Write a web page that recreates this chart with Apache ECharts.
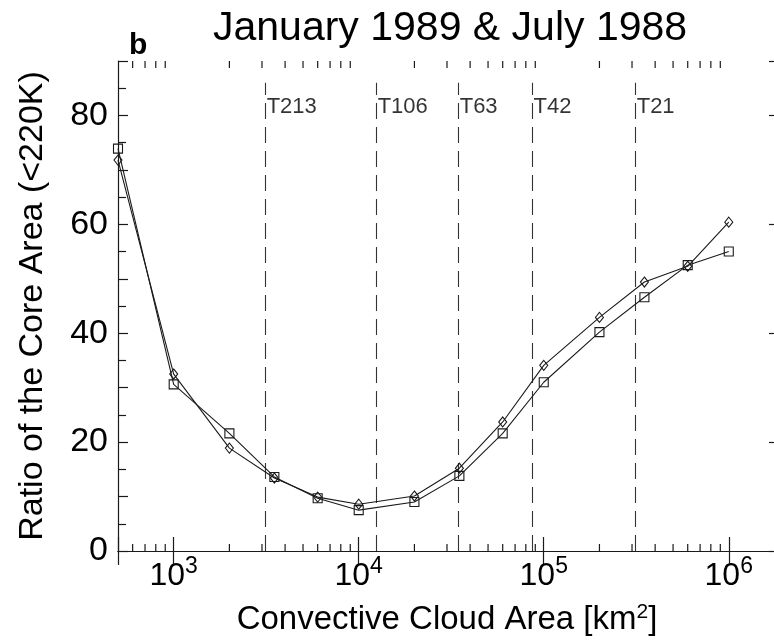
<!DOCTYPE html>
<html>
<head>
<meta charset="utf-8">
<title>Ratio of the Core Area</title>
<script src="https://cdn.jsdelivr.net/npm/echarts@6/dist/echarts.min.js"></script>
<style>
  html, body { margin: 0; padding: 0; background: #ffffff; }
  #chart { width: 774px; height: 641px; }
</style>
</head>
<body>
<div id="chart"></div>
<script>
// Convective cloud area classes [km^2]
const cloudArea = [500, 1000, 2000, 3500, 6000, 10000, 20000, 35000, 60000, 100000, 200000, 350000, 600000, 1000000];
// Ratio of the core area (<220K), diamond markers
const ratioJan1989 = [71.8, 32.5, 18.9, 13.4, 9.9, 8.6, 10.1, 15.2, 23.7, 34.1, 42.9, 49.4, 52.3, 60.4];
// Ratio of the core area (<220K), square markers
const ratioJul1988 = [73.9, 30.6, 21.6, 13.6, 9.7, 7.5, 9.0, 13.8, 21.6, 31.0, 40.2, 46.6, 52.5, 55.0];

// Model grid-box areas marked by dashed lines
const resolutionArea = [3140, 12500, 34700, 87000, 314000];
const resolutionName = ['T213', 'T106', 'T63', 'T42', 'T21'];

// Axis ranges and tick labels
const xMin = 500, xMax = 1.8e6;
const yMin = 0, yMax = 90;
const yTickLabels = [0, 20, 40, 60, 80];

const FONT = '"Liberation Sans", Arial, Helvetica, sans-serif';
const INK = '#1a1a1a';

// Minor log ticks (2..9 of each decade) inside the axis range
const minorTicks = [];
for (let e = 2; e <= 6; e++) {
  for (let m = 2; m <= 9; m++) {
    const v = m * Math.pow(10, e);
    if (v > xMin && v < xMax) minorTicks.push([v, yMin]);
  }
}

const isPow10 = v => Math.abs(Math.log10(v) - Math.round(Math.log10(v))) < 1e-6;

const chart = echarts.init(document.getElementById('chart'), null, { renderer: 'canvas' });

const option = {
  backgroundColor: '#ffffff',
  animation: false,
  title: [
    {
      text: 'January 1989 & July 1988',
      left: 208, top: 3,
      textStyle: { fontFamily: FONT, fontSize: 41, fontWeight: 'normal', color: '#000' }
    },
    {
      text: 'b',
      left: 124, top: 26,
      textStyle: { fontFamily: FONT, fontSize: 30, fontWeight: 'bold', color: '#000' }
    }
  ],
  grid: { left: 118, width: 658, top: 61, bottom: 90, containLabel: false, outerBoundsMode: 'none' },
  xAxis: [
    {
      type: 'log', logBase: 10, min: xMin, max: xMax, position: 'bottom',
      axisLine: { show: true, lineStyle: { color: INK, width: 1.2 } },
      axisTick: { show: true, inside: true, length: 14, lineStyle: { color: INK, width: 1.2 } },
      splitLine: { show: false },
      minorTick: { show: false },
      axisLabel: {
        margin: 4,
        color: '#000',
        fontFamily: FONT,
        formatter: v => isPow10(v) ? '{b|10}{s|' + Math.round(Math.log10(v)) + '}' : '',
        rich: {
          b: { fontFamily: FONT, fontSize: 32, lineHeight: 32, padding: [10, 0, 0, 0], color: '#000' },
          s: { fontFamily: FONT, fontSize: 23, lineHeight: 23, verticalAlign: 'top', color: '#000' }
        }
      },
      name: '{n|Convective Cloud Area [km}{s|2}{n|]}',
      nameLocation: 'middle',
      nameGap: 51,
      nameTextStyle: {
        rich: {
          n: { fontFamily: FONT, fontSize: 33, lineHeight: 36, color: '#000' },
          s: { fontFamily: FONT, fontSize: 21, lineHeight: 20, verticalAlign: 'top', color: '#000' }
        }
      }
    },
    {
      type: 'log', logBase: 10, min: xMin, max: xMax, position: 'top',
      axisLine: { show: true, lineStyle: { color: INK, width: 1.2 } },
      axisTick: { show: true, inside: true, length: 14, lineStyle: { color: INK, width: 1.2 } },
      axisLabel: { show: false },
      splitLine: { show: false }
    }
  ],
  yAxis: [
    {
      type: 'value', min: yMin, max: yMax, interval: 10, position: 'left',
      axisLine: { show: true, lineStyle: { color: INK, width: 1.2 } },
      axisTick: { show: true, inside: true, length: 10, lineStyle: { color: INK, width: 1.2 } },
      minorTick: { show: true, splitNumber: 2, length: 8, lineStyle: { color: INK, width: 1.2 } },
      splitLine: { show: false },
      axisLabel: {
        margin: 10,
        color: '#000',
        fontFamily: FONT,
        fontSize: 34,
        formatter: v => yTickLabels.indexOf(v) >= 0 ? String(v) : ''
      },
      name: 'Ratio of the Core Area (<220K)',
      nameLocation: 'middle',
      nameGap: 68,
      nameTextStyle: { fontFamily: FONT, fontSize: 34, color: '#000' }
    },
    {
      type: 'value', min: yMin, max: yMax, interval: 20, position: 'right',
      axisLine: { show: true, lineStyle: { color: INK, width: 1.2 } },
      axisTick: { show: true, inside: true, length: 7, lineStyle: { color: INK, width: 1.2 } },
      axisLabel: { show: false },
      splitLine: { show: false }
    }
  ],
  series: [
    {
      // minor log ticks on the bottom and top axes
      type: 'custom',
      silent: true,
      xAxisIndex: 0, yAxisIndex: 0,
      data: minorTicks,
      clip: false,
      renderItem: (params, api) => {
        const v = api.value(0);
        const b = api.coord([v, yMin]);
        const t = api.coord([v, yMax]);
        const st = { stroke: INK, lineWidth: 1.2 };
        return {
          type: 'group',
          children: [
            { type: 'line', shape: { x1: b[0], y1: b[1], x2: b[0], y2: b[1] - 7 }, style: st },
            { type: 'line', shape: { x1: t[0], y1: t[1], x2: t[0], y2: t[1] + 7 }, style: st }
          ]
        };
      },
      z: 3
    },
    {
      name: 'January 1989',
      type: 'line',
      data: cloudArea.map((x, i) => [x, ratioJan1989[i]]),
      symbol: 'diamond',
      symbolSize: [8, 10],
      showAllSymbol: true,
      lineStyle: { color: INK, width: 1.1 },
      itemStyle: { color: 'rgba(255,255,255,0)', borderColor: INK, borderWidth: 1.1 },
      z: 5,
      markLine: {
        silent: true,
        symbol: ['none', 'none'],
        label: { show: false },
        lineStyle: { color: '#333', width: 1.1, type: [16, 8] },
        data: resolutionArea.map(x => [{ coord: [x, yMin] }, { coord: [x, 86] }])
      }
    },
    {
      name: 'July 1988',
      type: 'line',
      data: cloudArea.map((x, i) => [x, ratioJul1988[i]]),
      symbol: 'rect',
      symbolSize: 9,
      showAllSymbol: true,
      lineStyle: { color: INK, width: 1.1 },
      itemStyle: { color: 'rgba(255,255,255,0)', borderColor: INK, borderWidth: 1.1 },
      z: 5
    },
    {
      // resolution labels next to the dashed lines
      type: 'scatter',
      silent: true,
      symbolSize: 0,
      data: resolutionArea.map((x, i) => ({ value: [x, 81.5], name: resolutionName[i] })),
      label: {
        show: true,
        position: 'right',
        distance: 1,
        formatter: p => p.name,
        fontFamily: FONT,
        fontSize: 22,
        color: '#000'
      },
      z: 6
    }
  ]
};

chart.setOption(option);
</script>
</body>
</html>
